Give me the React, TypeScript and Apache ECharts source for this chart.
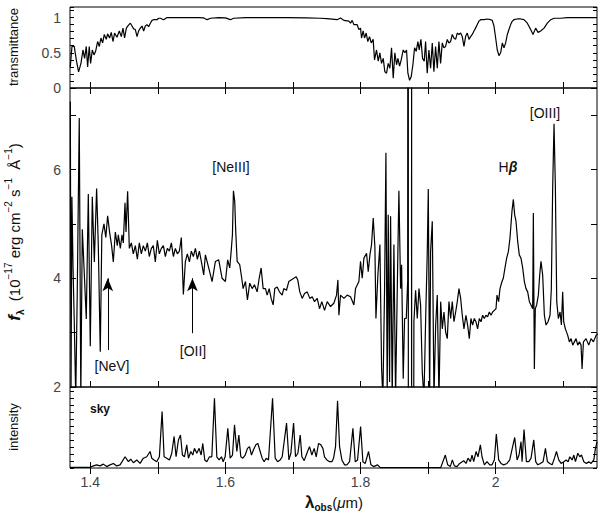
import React, { useEffect, useRef } from 'react';
import * as echarts from 'echarts';

const X_MIN = 1.37;
const X_MAX = 2.15;
const X_TICKS = [1.4, 1.5, 1.6, 1.7, 1.8, 1.9, 2.0, 2.1];
const X_LABELS = [1.4, 1.6, 1.8, 2.0];
const TRANS_LABELS = [0, 0.5, 1];
const FLUX_LABELS = [2, 4, 6];

// [wavelength (um), transmittance]
const TRANSMITTANCE: [number, number][] = [
  [1.3704, 0.30], [1.3729, 0.59], [1.3763, 0.59], [1.3793, 0.40], [1.3827, 0.23], [1.3862, 0.35],
  [1.3892, 0.54], [1.3916, 0.42], [1.3941, 0.59], [1.3961, 0.30], [1.3985, 0.59], [1.4005, 0.35],
  [1.403, 0.54], [1.4055, 0.47], [1.4079, 0.52], [1.4109, 0.66], [1.4134, 0.59], [1.4158, 0.71],
  [1.4183, 0.64], [1.4208, 0.76], [1.4237, 0.69], [1.4257, 0.77], [1.4286, 0.71], [1.4311, 0.79],
  [1.4336, 0.66], [1.436, 0.78], [1.4395, 0.72], [1.443, 0.81], [1.4459, 0.73], [1.4484, 0.85],
  [1.4508, 0.71], [1.4534, 0.85], [1.4563, 0.89], [1.4593, 0.92], [1.4618, 0.88], [1.4642, 0.84],
  [1.4667, 0.83], [1.4692, 0.73], [1.4716, 0.81], [1.4741, 0.85], [1.4766, 0.88], [1.479, 0.81],
  [1.4815, 0.88], [1.484, 0.90], [1.4864, 0.87], [1.4889, 0.92], [1.4914, 0.96], [1.4938, 0.97],
  [1.4988, 0.97], [1.5012, 0.99], [1.5037, 0.99], [1.5086, 0.97], [1.5136, 1.0], [1.5185, 1.0],
  [1.54, 1.0], [1.56, 1.0], [1.568, 0.995], [1.5729, 0.97], [1.578, 0.99], [1.59, 1.0],
  [1.60, 0.995], [1.6074, 0.97], [1.612, 0.99], [1.63, 1.0], [1.66, 1.0], [1.69, 1.0],
  [1.72, 0.995], [1.74, 0.99], [1.75, 0.985], [1.7654, 0.97], [1.7704, 0.995], [1.7753, 0.96],
  [1.7827, 0.95], [1.7852, 0.92], [1.7876, 0.96], [1.7901, 0.90], [1.795, 0.90], [1.7975, 0.83],
  [1.80, 0.85], [1.8015, 0.71], [1.8039, 0.81], [1.8059, 0.71], [1.8084, 0.78], [1.8108, 0.66],
  [1.8133, 0.73], [1.8158, 0.64], [1.8187, 0.69], [1.8207, 0.40], [1.8237, 0.54], [1.8262, 0.38],
  [1.8286, 0.50], [1.8311, 0.35], [1.8336, 0.42], [1.836, 0.23], [1.8385, 0.21], [1.841, 0.35],
  [1.8434, 0.28], [1.8459, 0.57], [1.8484, 0.14], [1.8508, 0.50], [1.8533, 0.33], [1.8553, 0.42],
  [1.8578, 0.31], [1.8602, 0.40], [1.8632, 0.54], [1.8657, 0.50], [1.8681, 0.54], [1.8701, 0.21],
  [1.8726, 0.11], [1.875, 0.16], [1.8775, 0.33], [1.88, 0.57], [1.8824, 0.52], [1.8849, 0.66],
  [1.8869, 0.54], [1.8894, 0.69], [1.8918, 0.42], [1.8943, 0.38], [1.8963, 0.66], [1.8987, 0.21],
  [1.9012, 0.54], [1.9037, 0.28], [1.9062, 0.64], [1.9086, 0.23], [1.9111, 0.59], [1.9136, 0.28],
  [1.916, 0.66], [1.9185, 0.35], [1.921, 0.64], [1.9234, 0.57], [1.9259, 0.59], [1.9284, 0.69],
  [1.9308, 0.64], [1.9333, 0.66], [1.9358, 0.76], [1.9382, 0.71], [1.9407, 0.69], [1.9432, 0.78],
  [1.9457, 0.76], [1.9481, 0.78], [1.9506, 0.73], [1.9531, 0.59], [1.9555, 0.73], [1.958, 0.78],
  [1.9605, 0.69], [1.9629, 0.73], [1.9654, 0.76], [1.9679, 0.81], [1.9703, 0.85], [1.9728, 0.90],
  [1.9753, 0.95], [1.9778, 0.97], [1.9827, 0.97], [1.9876, 0.98], [1.9926, 0.97], [1.995, 0.96],
  [1.9975, 0.88], [2.0, 0.71], [2.0024, 0.54], [2.0049, 0.46], [2.0074, 0.50], [2.0099, 0.64],
  [2.0123, 0.57], [2.0148, 0.64], [2.0173, 0.76], [2.0197, 0.83], [2.0222, 0.90], [2.0247, 0.95],
  [2.0271, 0.97], [2.0321, 0.98], [2.037, 0.98], [2.0419, 0.97], [2.0469, 0.92], [2.0518, 0.83],
  [2.0553, 0.76], [2.0592, 0.85], [2.0627, 0.79], [2.0666, 0.81], [2.0716, 0.85], [2.0765, 0.92],
  [2.0815, 0.97], [2.0864, 0.99], [2.0963, 0.99], [2.1062, 1.0], [2.1308, 1.0], [2.15, 1.0],
];

// [wavelength (um), f_lambda (1e-17 erg/cm2/s/A)]
const FLUX: [number, number][] = [
  [1.3705, 7.25], [1.3715, 1.8], [1.3728, 5.5], [1.3745, 4.2], [1.3763, 3.2], [1.3785, 1.8],
  [1.3808, 3.8], [1.3837, 6.95], [1.386, 1.8], [1.3882, 4.9], [1.3911, 4.1], [1.3941, 3.25],
  [1.3971, 5.55], [1.400, 2.75], [1.403, 5.5], [1.406, 4.3], [1.4094, 5.65], [1.4119, 4.6],
  [1.4148, 2.65], [1.4171, 4.8], [1.4203, 5.0], [1.423, 4.75], [1.4257, 5.15], [1.4286, 4.85],
  [1.4316, 4.6], [1.4341, 4.3], [1.4371, 4.85], [1.440, 4.6], [1.4415, 4.8], [1.4445, 4.55],
  [1.447, 4.8], [1.4489, 4.65], [1.4514, 5.39], [1.4529, 4.85], [1.4553, 5.6], [1.4578, 4.55],
  [1.4608, 4.65], [1.4637, 4.45], [1.4667, 4.6], [1.4697, 4.35], [1.4726, 4.65], [1.4756, 4.45],
  [1.4785, 4.6], [1.4815, 4.5], [1.4845, 4.65], [1.4874, 4.4], [1.4904, 4.55], [1.4933, 4.6],
  [1.4963, 4.3], [1.4993, 4.7], [1.5022, 4.45], [1.5052, 4.55], [1.5082, 4.6], [1.5111, 4.4],
  [1.5141, 4.55], [1.5171, 4.5], [1.520, 4.65], [1.523, 4.4], [1.5259, 4.55], [1.5289, 4.45],
  [1.5319, 4.5], [1.5348, 4.75], [1.5378, 3.7], [1.5407, 4.3], [1.5437, 4.45], [1.5467, 4.3],
  [1.5496, 4.5], [1.5526, 4.4], [1.5556, 4.55], [1.5585, 4.35], [1.5615, 4.5], [1.5645, 4.3],
  [1.5679, 4.06], [1.5704, 4.43], [1.5753, 4.19], [1.5803, 3.94], [1.5852, 4.31], [1.5901, 4.34],
  [1.5951, 4.0], [1.600, 3.94], [1.6034, 4.34], [1.6064, 4.19], [1.6085, 4.49], [1.6104, 4.8],
  [1.6119, 5.61], [1.6138, 5.42], [1.6153, 4.86], [1.6174, 4.31], [1.6212, 4.25], [1.6242, 4.0],
  [1.6262, 3.81], [1.6297, 3.94], [1.6326, 3.6], [1.636, 3.91], [1.6396, 3.81], [1.643, 3.88],
  [1.647, 3.75], [1.65, 4.0], [1.6529, 4.19], [1.6559, 3.81], [1.6593, 3.81], [1.6618, 3.69],
  [1.6648, 3.81], [1.6677, 3.63], [1.6707, 3.51], [1.6731, 3.81], [1.6766, 3.84], [1.68, 3.75],
  [1.684, 3.69], [1.6864, 3.81], [1.6904, 3.78], [1.6938, 3.94], [1.6973, 3.97], [1.7012, 4.0],
  [1.7048, 4.03], [1.7071, 3.97], [1.7101, 3.75], [1.7137, 3.63], [1.7171, 3.72], [1.7211, 3.75],
  [1.7249, 3.63], [1.7285, 3.66], [1.7319, 3.57], [1.7359, 3.63], [1.7393, 3.44], [1.7427, 3.57],
  [1.7467, 3.41], [1.7507, 3.57], [1.7556, 3.48], [1.7605, 3.54], [1.7645, 3.69], [1.7665, 3.97],
  [1.768, 3.32], [1.7704, 3.69], [1.7754, 3.63], [1.7803, 3.69], [1.7852, 3.66], [1.7902, 3.51],
  [1.7926, 3.81], [1.7976, 3.94], [1.80, 4.31], [1.8025, 4.0], [1.805, 4.37], [1.8089, 4.46],
  [1.8114, 4.12], [1.8139, 4.43], [1.8163, 4.62], [1.8188, 5.11], [1.8213, 4.56], [1.8228, 3.26],
  [1.8257, 4.06], [1.8287, 4.62], [1.8312, 2.33], [1.8331, 1.8], [1.8356, 3.81], [1.8376, 6.31],
  [1.8395, 1.8], [1.841, 5.17], [1.843, 2.09], [1.8445, 5.14], [1.8469, 1.8], [1.8494, 4.62],
  [1.8519, 1.8], [1.8544, 3.81], [1.8568, 5.61], [1.8593, 3.81], [1.8608, 4.25], [1.8632, 2.15],
  [1.8652, 3.26], [1.8677, 3.26], [1.8698, 3.94], [1.8707, 30], [1.8708, -20], [1.8755, -20],
  [1.8756, 30], [1.8757, -20], [1.879, 3.2], [1.8815, 3.78], [1.884, 3.26], [1.8865, 3.81],
  [1.8889, 3.51], [1.8914, 2.27], [1.8939, 1.8], [1.8963, 3.2], [1.8988, 4.49], [1.9003, 5.64],
  [1.9023, 1.8], [1.9037, 4.49], [1.9062, 5.05], [1.9087, 1.8], [1.9112, 3.14], [1.9136, 3.69],
  [1.9161, 1.8], [1.9186, 3.57], [1.921, 3.07], [1.9235, 3.38], [1.926, 3.01], [1.9284, 2.89],
  [1.9309, 3.57], [1.9334, 3.26], [1.9358, 3.57], [1.9383, 3.2], [1.9408, 3.38], [1.9432, 3.57],
  [1.9457, 3.81], [1.9482, 3.63], [1.9506, 3.32], [1.9531, 3.07], [1.956, 3.32], [1.9585, 3.14],
  [1.961, 2.89], [1.9634, 3.26], [1.9659, 3.14], [1.9684, 3.26], [1.9709, 3.2], [1.9733, 3.07],
  [1.9758, 3.26], [1.9783, 3.2], [1.9807, 3.32], [1.9832, 3.26], [1.9857, 3.32], [1.9881, 3.29],
  [1.9906, 3.38], [1.9931, 3.32], [1.9955, 3.38], [1.998, 3.41], [2.0005, 3.44], [2.002, 3.69],
  [2.0044, 3.57], [2.0064, 3.81], [2.0094, 3.94], [2.0113, 4.0], [2.0138, 4.19], [2.0163, 4.37],
  [2.0188, 4.49], [2.0212, 4.74], [2.0227, 4.99], [2.0242, 5.24], [2.0262, 5.45], [2.0281, 5.17],
  [2.0301, 5.05], [2.0326, 4.68], [2.035, 4.43], [2.0375, 4.37], [2.04, 4.19], [2.0425, 3.94],
  [2.0449, 3.81], [2.0474, 3.75], [2.0499, 3.57], [2.0523, 3.51], [2.0548, 3.44], [2.0558, 5.2],
  [2.0573, 2.33], [2.0587, 3.44], [2.0607, 3.51], [2.0632, 3.69], [2.0652, 4.06], [2.0671, 4.31],
  [2.0696, 4.06], [2.0721, 3.32], [2.0746, 3.14], [2.0775, 3.2], [2.0805, 3.32], [2.0824, 3.81],
  [2.0844, 5.67], [2.0864, 6.84], [2.0884, 5.67], [2.0904, 3.57], [2.0928, 3.26], [2.0953, 3.38],
  [2.0973, 3.14], [2.0992, 3.75], [2.1007, 3.2], [2.1032, 3.07], [2.1067, 2.95], [2.1091, 2.83],
  [2.1116, 2.89], [2.1141, 2.77], [2.1165, 2.83], [2.119, 2.89], [2.1215, 2.77], [2.124, 2.83],
  [2.1264, 2.77], [2.1279, 2.33], [2.1299, 2.83], [2.1338, 2.89], [2.1378, 2.77], [2.1412, 2.89],
  [2.1447, 2.83], [2.1486, 2.95], [2.151, 2.98],
];

// [wavelength (um), sky intensity (arbitrary)]
const SKY: [number, number][] = [
  [1.37, 0.02], [1.3996, 0.02], [1.4046, 0.06], [1.4095, 0.09], [1.4144, 0.06], [1.4194, 0.11],
  [1.4243, 0.04], [1.4293, 0.09], [1.4342, 0.13], [1.4391, 0.06], [1.4441, 0.09], [1.4515, 0.32],
  [1.4564, 0.18], [1.4599, 0.25], [1.4638, 0.15], [1.4688, 0.23], [1.4737, 0.13], [1.4786, 0.28],
  [1.4836, 0.32], [1.4885, 0.47], [1.491, 0.28], [1.4944, 0.23], [1.4984, 0.18], [1.5023, 0.32],
  [1.5063, 1.61], [1.5093, 0.32], [1.5132, 0.28], [1.5172, 0.23], [1.5206, 0.42], [1.5241, 0.90],
  [1.527, 0.32], [1.5305, 0.80], [1.5335, 0.94], [1.5364, 0.37], [1.5394, 0.32], [1.5428, 0.66],
  [1.5453, 0.28], [1.5488, 0.47], [1.5517, 0.37], [1.5542, 0.56], [1.5577, 0.42], [1.5611, 0.56],
  [1.5641, 0.37], [1.5665, 0.70], [1.5695, 0.23], [1.5725, 0.18], [1.5764, 0.32], [1.5799, 0.32],
  [1.5838, 1.99], [1.5873, 0.32], [1.5907, 0.23], [1.5942, 0.32], [1.5967, 0.18], [1.5996, 0.32],
  [1.6036, 1.13], [1.607, 0.28], [1.6105, 0.37], [1.6135, 1.23], [1.6169, 0.47], [1.6199, 0.94],
  [1.6228, 0.32], [1.6258, 0.28], [1.6293, 0.37], [1.6327, 0.56], [1.6357, 0.61], [1.6386, 0.37],
  [1.6416, 0.52], [1.6451, 0.66], [1.648, 0.70], [1.6515, 0.47], [1.6544, 0.28], [1.6574, 0.18],
  [1.6604, 0.28], [1.6638, 0.23], [1.6698, 1.99], [1.6737, 0.28], [1.6772, 0.18], [1.6811, 0.23],
  [1.6841, 0.32], [1.6905, 1.28], [1.694, 0.23], [1.6969, 0.42], [1.7009, 1.28], [1.7038, 0.32],
  [1.7073, 0.42], [1.7107, 0.94], [1.7132, 0.32], [1.7166, 0.21], [1.7206, 0.42], [1.7245, 0.61],
  [1.728, 0.37], [1.7314, 0.56], [1.7344, 0.32], [1.7379, 0.70], [1.7413, 0.66], [1.7443, 0.56],
  [1.7467, 0.32], [1.7502, 0.23], [1.7542, 0.18], [1.7576, 0.18], [1.7601, 0.28], [1.763, 0.61],
  [1.766, 1.92], [1.769, 0.61], [1.7724, 0.23], [1.7764, 0.09], [1.7798, 0.09], [1.7838, 0.18],
  [1.7887, 1.13], [1.7922, 0.18], [1.7956, 0.23], [1.8001, 1.18], [1.8035, 0.18], [1.807, 0.13],
  [1.8119, 0.47], [1.8154, 0.09], [1.8193, 0.04], [1.8253, 0.09], [1.8292, 0.01], [1.85, 0.01],
  [1.88, 0.01], [1.91, 0.01], [1.9187, 0.01], [1.9255, 0.37], [1.929, 0.09], [1.9329, 0.04],
  [1.9359, 0.23], [1.9389, 0.06], [1.9428, 0.04], [1.9467, 0.13], [1.9527, 0.21], [1.9561, 0.13],
  [1.9591, 0.28], [1.9626, 0.18], [1.965, 0.37], [1.9675, 0.18], [1.971, 0.47], [1.9739, 0.32],
  [1.9774, 0.66], [1.9798, 0.32], [1.9833, 0.09], [1.9872, 0.18], [1.9912, 0.09], [1.9946, 0.09],
  [1.9981, 0.23], [2.001, 0.97], [2.0045, 0.23], [2.0079, 0.13], [2.0119, 0.09], [2.0168, 0.13],
  [2.0208, 0.23], [2.0282, 0.87], [2.0317, 0.23], [2.0346, 0.37], [2.0376, 0.75], [2.0391, 0.18],
  [2.042, 1.10], [2.0455, 0.18], [2.049, 0.18], [2.0524, 0.28], [2.0564, 0.80], [2.0593, 0.18],
  [2.0623, 0.09], [2.0662, 0.13], [2.0702, 0.18], [2.0737, 0.56], [2.0766, 0.18], [2.0801, 0.13],
  [2.0836, 0.09], [2.087, 0.28], [2.09, 0.47], [2.0934, 0.23], [2.0969, 0.13], [2.1008, 0.18],
  [2.1043, 0.23], [2.1073, 0.18], [2.1097, 0.32], [2.1132, 0.23], [2.1157, 0.37], [2.1181, 0.18],
  [2.1216, 0.42], [2.1245, 0.32], [2.127, 0.37], [2.1305, 0.18], [2.1344, 0.13], [2.1378, 0.18],
  [2.1413, 0.13], [2.1453, 0.23], [2.1477, 0.56], [2.1502, 0.75],
];

// Arrow annotations: wavelength, flux at tail, flux at head
const ARROW_LAMBDA = [1.4259, 1.5512];
const ARROW_FROM = [2.68, 2.99];
const ARROW_TO = [4.0, 4.0];

const FONT = '"Liberation Sans", Arial, Helvetica, sans-serif';
const LABEL_COLOR = '#444';
const TEXT_COLOR = '#111';

function near(v: number, list: number[]) {
  return list.some((t) => Math.abs(t - v) < 1e-6);
}

function xAxis(gridIndex: number, position: 'top' | 'bottom', showLabel: boolean) {
  return {
    type: 'value',
    gridIndex,
    position,
    min: X_MIN,
    max: X_MAX,
    axisLine: { show: false },
    splitLine: { show: false },
    axisTick: {
      show: true,
      inside: true,
      length: 6,
      customValues: X_TICKS,
      lineStyle: { color: '#000', width: 1 },
    },
    axisLabel: {
      show: showLabel,
      customValues: X_LABELS,
      color: LABEL_COLOR,
      fontSize: 14,
      fontFamily: FONT,
      margin: 7,
      formatter: (v: number) => (Math.abs(v - 2) < 1e-6 ? '2' : v.toFixed(1)),
    },
  };
}

function yAxis(
  gridIndex: number,
  position: 'left' | 'right',
  min: number,
  max: number,
  interval: number,
  labels: number[] | null,
  tickLen: number
) {
  return {
    type: 'value',
    gridIndex,
    position,
    min,
    max,
    interval,
    axisLine: { show: false },
    splitLine: { show: false },
    axisTick: { show: true, inside: true, length: tickLen, lineStyle: { color: '#000', width: 1 } },
    axisLabel: {
      show: !!labels,
      color: LABEL_COLOR,
      fontSize: 14,
      fontFamily: FONT,
      margin: 9,
      formatter: (v: number) => (labels && near(v, labels) ? String(Math.round(v * 10) / 10) : ''),
    },
  };
}

export default function App() {
  const ref = useRef<HTMLDivElement>(null);

  useEffect(() => {
    if (!ref.current) return;
    const chart = echarts.init(ref.current, undefined, { renderer: 'svg' });

    const lineStyle = { color: '#000', width: 1.2 };
    const option: any = {
      animation: false,
      backgroundColor: '#fff',
      grid: [
        { left: 70, right: 3, top: 7, height: 81, show: true, borderColor: '#000', borderWidth: 1, backgroundColor: 'transparent' },
        { left: 70, right: 3, top: 88, height: 299, show: true, borderColor: '#000', borderWidth: 1, backgroundColor: 'transparent' },
        { left: 70, right: 3, top: 387, height: 81, show: true, borderColor: '#000', borderWidth: 1, backgroundColor: 'transparent' },
      ],
      xAxis: [
        xAxis(0, 'bottom', false),
        xAxis(0, 'top', false),
        xAxis(1, 'bottom', false),
        xAxis(1, 'top', false),
        xAxis(2, 'bottom', true),
        xAxis(2, 'top', false),
      ],
      yAxis: [
        yAxis(0, 'left', 0, 1.15, 0.1, TRANS_LABELS, 4),
        yAxis(0, 'right', 0, 1.15, 0.1, null, 4),
        yAxis(1, 'left', 2, 7.5, 1, FLUX_LABELS, 6),
        yAxis(1, 'right', 2, 7.5, 1, null, 6),
        yAxis(2, 'left', 0, 2.31, 0.2, null, 4),
        yAxis(2, 'right', 0, 2.31, 0.2, null, 4),
      ],
      series: [
        {
          type: 'line',
          xAxisIndex: 0,
          yAxisIndex: 0,
          data: TRANSMITTANCE,
          showSymbol: false,
          symbol: 'none',
          clip: true,
          lineStyle,
        },
        {
          type: 'line',
          xAxisIndex: 2,
          yAxisIndex: 2,
          data: FLUX,
          showSymbol: false,
          symbol: 'none',
          clip: true,
          lineStyle,
          markLine: {
            silent: true,
            symbol: ['none', 'arrow'],
            symbolSize: [8, 13],
            lineStyle: { color: '#000', width: 1, type: 'solid' },
            label: { show: false },
            data: ARROW_LAMBDA.map((l, i) => [
              { coord: [l, ARROW_FROM[i]] },
              { coord: [l, ARROW_TO[i]] },
            ]),
          },
        },
        {
          type: 'line',
          xAxisIndex: 4,
          yAxisIndex: 4,
          data: SKY,
          showSymbol: false,
          symbol: 'none',
          clip: true,
          lineStyle,
        },
      ],
      graphic: [
        {
          type: 'text',
          x: 13,
          y: 47,
          rotation: Math.PI / 2,
          style: {
            text: 'transmittance',
            fontSize: 13,
            fontFamily: FONT,
            fill: TEXT_COLOR,
            align: 'center',
            verticalAlign: 'middle',
          },
        },
        {
          type: 'text',
          x: 13,
          y: 427,
          rotation: Math.PI / 2,
          style: {
            text: 'intensity',
            fontSize: 13,
            fontFamily: FONT,
            fill: TEXT_COLOR,
            align: 'center',
            verticalAlign: 'middle',
          },
        },
        {
          type: 'text',
          x: 14,
          y: 232,
          rotation: Math.PI / 2,
          style: {
            text: '{f|f}{sub|λ}  (10{sup|−17} erg cm{sup|−2} s{sup|−1}  Å{sup|−1})',
            fontSize: 15,
            fontFamily: FONT,
            fill: TEXT_COLOR,
            lineHeight: 22,
            align: 'center',
            verticalAlign: 'middle',
            rich: {
              f: { fontSize: 17, fontStyle: 'italic', fontWeight: 'bold', fontFamily: FONT, fill: TEXT_COLOR, lineHeight: 22, verticalAlign: 'middle' },
              sub: { fontSize: 10, fontWeight: 'bold', fontFamily: FONT, fill: TEXT_COLOR, lineHeight: 12, verticalAlign: 'bottom' },
              sup: { fontSize: 10, fontFamily: FONT, fill: TEXT_COLOR, lineHeight: 12, verticalAlign: 'top' },
            },
          },
        },
        {
          type: 'text',
          x: 334,
          y: 502,
          style: {
            text: '{l|λ}{s|obs}{n|(}{m|μ}{n|m)}',
            fontSize: 14,
            fontFamily: FONT,
            fill: TEXT_COLOR,
            lineHeight: 20,
            align: 'center',
            verticalAlign: 'middle',
            rich: {
              l: { fontSize: 17, fontWeight: 'bold', fontFamily: FONT, fill: TEXT_COLOR, lineHeight: 20, verticalAlign: 'middle' },
              s: { fontSize: 10, fontWeight: 'bold', fontFamily: FONT, fill: TEXT_COLOR, lineHeight: 10, verticalAlign: 'bottom' },
              n: { fontSize: 15, fontFamily: FONT, fill: TEXT_COLOR, lineHeight: 20, verticalAlign: 'middle' },
              m: { fontSize: 15, fontStyle: 'italic', fontFamily: FONT, fill: TEXT_COLOR, lineHeight: 20, verticalAlign: 'middle' },
            },
          },
        },
        {
          type: 'text',
          x: 231,
          y: 167,
          style: { text: '[NeIII]', fontSize: 14, fontFamily: FONT, fill: TEXT_COLOR, align: 'center', verticalAlign: 'middle' },
        },
        {
          type: 'text',
          x: 508,
          y: 167,
          style: {
            text: '{h|H}{b|β}',
            align: 'center',
            verticalAlign: 'middle',
            rich: {
              h: { fontSize: 14, fontFamily: FONT, fill: TEXT_COLOR },
              b: { fontSize: 14, fontStyle: 'italic', fontWeight: 'bold', fontFamily: FONT, fill: TEXT_COLOR },
            },
          },
        },
        {
          type: 'text',
          x: 545,
          y: 113,
          style: { text: '[OIII]', fontSize: 14, fontFamily: FONT, fill: TEXT_COLOR, align: 'center', verticalAlign: 'middle' },
        },
        {
          type: 'text',
          x: 112,
          y: 366,
          style: { text: '[NeV]', fontSize: 14, fontFamily: FONT, fill: TEXT_COLOR, align: 'center', verticalAlign: 'middle' },
        },
        {
          type: 'text',
          x: 193,
          y: 351,
          style: { text: '[OII]', fontSize: 14, fontFamily: FONT, fill: TEXT_COLOR, align: 'center', verticalAlign: 'middle' },
        },
        {
          type: 'text',
          x: 100,
          y: 409,
          style: { text: 'sky', fontSize: 12, fontWeight: 'bold', fontFamily: FONT, fill: TEXT_COLOR, align: 'center', verticalAlign: 'middle' },
        },
      ],
    };

    chart.setOption(option);
    return () => chart.dispose();
  }, []);

  return (
    <div
      ref={ref}
      style={{ position: 'fixed', left: 0, top: 0, width: 600, height: 518, background: '#fff' }}
    />
  );
}
